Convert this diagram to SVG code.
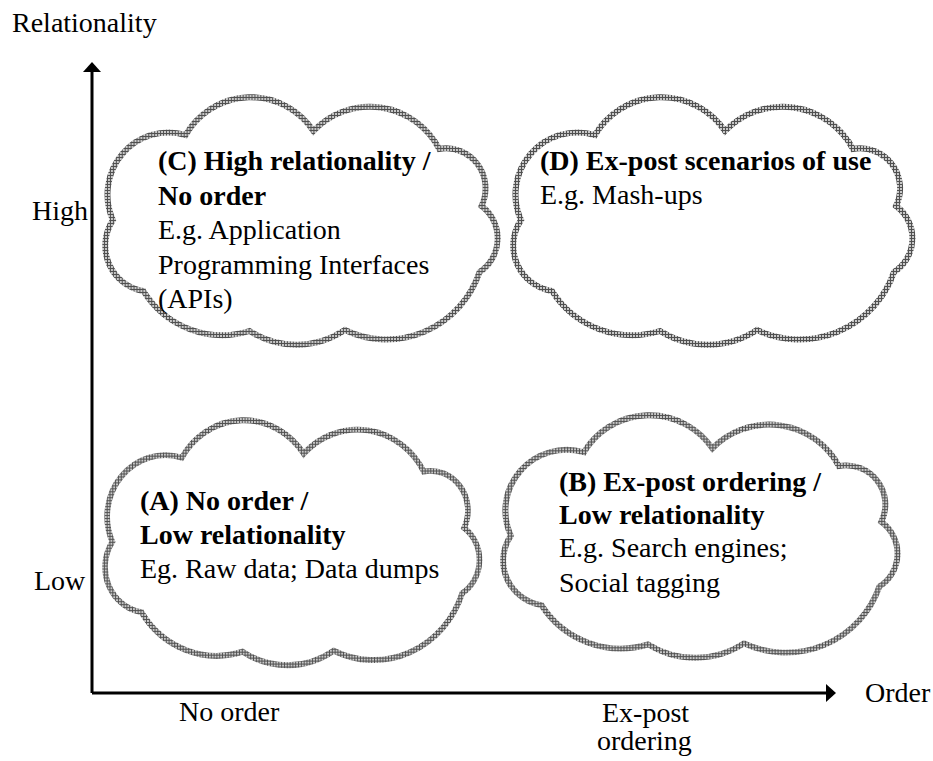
<svg xmlns="http://www.w3.org/2000/svg" xmlns:xlink="http://www.w3.org/1999/xlink" width="933" height="761" viewBox="0 0 933 761">
<style>
text{font-family:"Liberation Serif","Times New Roman",serif;font-size:28px;fill:#000}
.b{font-weight:bold}
.cloud{fill:#fff;stroke:url(#hatch);stroke-width:6;stroke-linejoin:miter;stroke-miterlimit:20}
.axis{stroke:#000;stroke-width:3;fill:none;marker-end:url(#arr)}
</style>
<defs>
<pattern id="hatch" width="3" height="3" patternUnits="userSpaceOnUse">
<rect width="3" height="3" fill="#c8c8c8"/>
<rect width="1" height="3" fill="#505050"/>
<rect width="3" height="1" fill="#505050"/>
</pattern>
<marker id="arr" markerUnits="userSpaceOnUse" markerWidth="10" markerHeight="18" viewBox="0 0 10 18" refX="2" refY="9" orient="auto">
<path d="M0,0 L10,9 L0,18 z" fill="#000"/>
</marker>
<path id="cloudShape" d="M80,35 A77,77 0 0 1 210,31 A80,80 0 0 1 338,49 A40,40 0 0 1 381,106 A40,40 0 0 1 379,172 A100,100 0 0 1 242,230 A90,90 0 0 1 145,231 A95,95 0 0 1 37,191 A46,46 0 0 1 6,120 A62,62 0 0 1 80,35 Z"/>
</defs>

<g id="connectors">
<line class="axis" x1="92" y1="693" x2="92" y2="70"/>
<line class="axis" x1="92" y1="693" x2="828" y2="693"/>
</g>

<g id="axis-labels">
<text x="12" y="32">Relationality</text>
<text x="865" y="702">Order</text>
<text x="32" y="220">High</text>
<text x="34" y="590">Low</text>
<text x="179" y="721">No order</text>
<text x="602" y="722">Ex-post</text>
<text x="597" y="750">ordering</text>
</g>

<g id="cloud-c">
<use xlink:href="#cloudShape" class="cloud" transform="translate(107,100) scale(0.983,1)"/>
<text x="158" y="170" class="b">(C) High relationality /</text>
<text x="158" y="205" class="b">No order</text>
<text x="158" y="239">E.g. Application</text>
<text x="158" y="274">Programming Interfaces</text>
<text x="158" y="308">(APIs)</text>
</g>

<g id="cloud-d">
<use xlink:href="#cloudShape" class="cloud" transform="translate(515,100)"/>
<text x="540" y="170" class="b">(D) Ex-post scenarios of use</text>
<text x="540" y="204">E.g. Mash-ups</text>
</g>

<g id="cloud-a">
<use xlink:href="#cloudShape" class="cloud" transform="translate(106.7,423) scale(0.938,0.99)"/>
<text x="140" y="510" class="b">(A) No order /</text>
<text x="140" y="544" class="b">Low relationality</text>
<text x="140" y="578">Eg. Raw data; Data dumps</text>
</g>

<g id="cloud-b">
<use xlink:href="#cloudShape" class="cloud" transform="translate(504.9,418) scale(0.988,0.98)"/>
<text x="559" y="491" class="b">(B) Ex-post ordering /</text>
<text x="559" y="524" class="b">Low relationality</text>
<text x="559" y="557">E.g. Search engines;</text>
<text x="559" y="592">Social tagging</text>
</g>
</svg>
